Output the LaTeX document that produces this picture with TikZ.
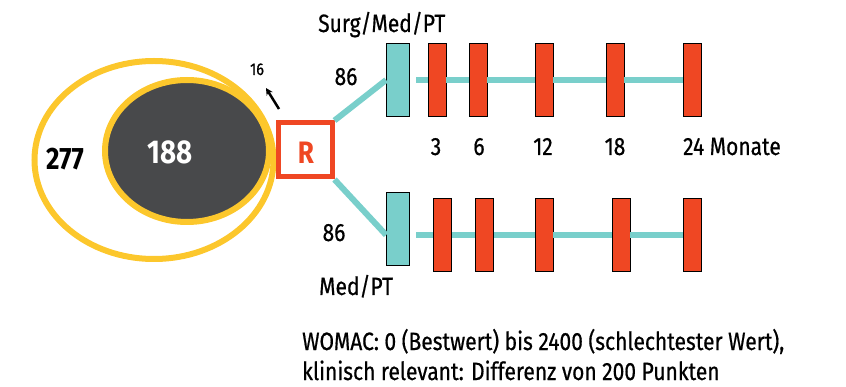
\documentclass[tikz,border=0pt]{standalone}
\usepackage{fontspec}
\setmainfont{Fira Sans}[FakeStretch=0.84, UprightFeatures={FakeBold=0.6}]
\usetikzlibrary{shapes.geometric,arrows.meta,calc}
\definecolor{ygold}{HTML}{FCC72C}
\definecolor{dgrey}{HTML}{48494B}
\definecolor{tealc}{HTML}{79CFCB}
\definecolor{redc}{HTML}{EF4723}
\begin{document}
\begin{tikzpicture}[x=1pt,y=-1pt,
  lbl/.style={font=\fontsize{25}{29}\selectfont, inner sep=0, anchor=base},
  tealbox/.style={draw=black, line width=0.8, fill=tealc, minimum width=23, minimum height=73, inner sep=0},
  redbox/.style={draw=black, line width=0.8, fill=redc, minimum width=18, minimum height=73, inner sep=0},
  tline/.style={tealc, line width=6},
  ell/.style={ellipse, draw=ygold, line width=6, inner sep=0}]
\useasboundingbox (0,0) rectangle (846,387);

% ellipses
\node[ell, minimum width=239, minimum height=198] (outer) at (154,160) {};
\node[ell, fill=dgrey, minimum width=164, minimum height=142] (inner) at (187,151) {};
\node[font=\fontsize{31}{33}\selectfont\bfseries, inner sep=0, anchor=base] (n277) at (65,170) {277};
\node[font=\fontsize{33}{35}\selectfont\bfseries, text=white, inner sep=0, anchor=base] (n188) at (170,164) {188};
\node[font=\fontsize{17}{19}\selectfont, inner sep=0, anchor=base] (n16) at (257,75) {16};
\coordinate (a0) at (279,109);
\coordinate (a1) at (266,88);
\draw[line width=2.5, -{Stealth[length=7pt,width=7pt]}] (a0) -- (a1);

% randomisation box
\node[draw=redc, line width=5, fill=white, minimum size=54, inner sep=0] (R) at (305,150) {};
\node[font=\fontsize{31}{33}\selectfont\bfseries, text=redc, inner sep=0, anchor=base] (Rl) at (306,164) {R};

% upper arm
\node[tealbox] (tu) at (398,80) {};
\draw[tline] (R.north east) -- (tu.west);
\coordinate (su) at (416,80);
\node[redbox] (u1) at (437,80) {};
\node[redbox] (u2) at (478,80) {};
\node[redbox] (u3) at (544,80) {};
\node[redbox] (u4) at (615,80) {};
\node[redbox] (u5) at (692.5,80) {};
\draw[tline] (su) -- (u1.west) (u1.east) -- (u2.west) (u2.east) -- (u3.west) (u3.east) -- (u4.west) (u4.east) -- (u5.west);

% lower arm
\node[tealbox] (tl) at (398,229) {};
\draw[tline] (R.south east) -- ($(tl.west)+(0,6)$);
\coordinate (sl) at (416,235);
\node[redbox] (l1) at (442.5,235) {};
\node[redbox] (l2) at (484.5,235) {};
\node[redbox] (l3) at (544,235) {};
\node[redbox] (l4) at (621,235) {};
\node[redbox] (l5) at (692.5,235) {};
\draw[tline] (sl) -- (l1.west) (l1.east) -- (l2.west) (l2.east) -- (l3.west) (l3.east) -- (l4.west) (l4.east) -- (l5.west);

% labels
\node[lbl, anchor=base west] (surg) at (318,32) {Surg/Med/PT};
\node[lbl] (nu) at (346,85) {86};
\node[lbl] (nl) at (334,241) {86};
\node[lbl, anchor=base west] (med) at (319,295) {Med/PT};
\node[lbl] (m3) at (436,155) {3};
\node[lbl] (m6) at (479,155) {6};
\node[lbl] (m12) at (543,155) {12};
\node[lbl] (m18) at (615,155) {18};
\node[lbl, anchor=base west] (m24) at (683,155) {24 Monate};
\node[lbl, anchor=base west] (w1) at (302,350) {WOMAC: 0 (Bestwert) bis 2400 (schlechtester Wert),};
\node[lbl, anchor=base west] (w2) at (302,380) {klinisch relevant: Differenz von 200 Punkten};
\end{tikzpicture}
\end{document}
